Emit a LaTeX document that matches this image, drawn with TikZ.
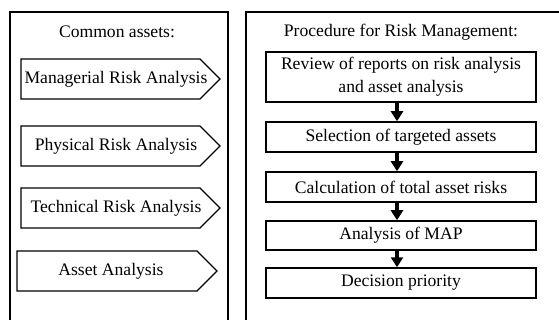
\documentclass[tikz,border=0pt]{standalone}
\usepackage{fontspec}
\setmainfont{Liberation Serif}
\usetikzlibrary{arrows.meta}
\begin{document}
\begin{tikzpicture}[x=1pt,y=-1pt,
  every node/.style={font=\fontsize{17.6}{23}\selectfont, inner sep=0pt},
  panel/.style={line width=1.2pt},
  pent/.style={line width=1.4pt},
  stepbox/.style={draw, line width=1.5pt, minimum width=270pt, minimum height=30pt, align=center},
  arr/.style={line width=3.4pt, -{Triangle[length=10pt,width=12pt]}}]
\useasboundingbox (0,0) rectangle (559,320);
% panels
\draw[panel] (10,320) -- (10,12) -- (228,12) -- (228,320);
\draw[panel] (246,320) -- (246,12) -- (559,12);
% left side
\node (ca) at (117,32) {Common assets:};
\draw[pent] (21,59) -- (200,59) -- (220,79) -- (200,99) -- (21,99) -- cycle;
\node (m) at (116,79) {Managerial Risk Analysis};
\draw[pent] (21,126) -- (200,126) -- (220,146) -- (200,166) -- (21,166) -- cycle;
\node (p) at (116,146) {Physical Risk Analysis};
\draw[pent] (21,188) -- (200,188) -- (220,208) -- (200,228) -- (21,228) -- cycle;
\node (t) at (116,208) {Technical Risk Analysis};
\draw[pent] (17,251) -- (197,251) -- (217,271) -- (197,291) -- (17,291) -- cycle;
\node (a) at (111,271) {Asset Analysis};
% right side
\node (pr) at (401,32) {Procedure for Risk Management:};
\node[stepbox, minimum height=50pt] (b1) at (401,77) {Review of reports on risk analysis\\and asset analysis};
\node[stepbox] (b2) at (401,137) {Selection of targeted assets};
\node[stepbox] (b3) at (401,187) {Calculation of total asset risks};
\node[stepbox, minimum height=29pt] (b4) at (401,235.5) {Analysis of MAP};
\node[stepbox] (b5) at (401,283) {Decision priority};
\draw[arr] ([xshift=-4pt]b1.south) -- ([xshift=-4pt]b2.north);
\draw[arr] ([xshift=-4pt]b2.south) -- ([xshift=-4pt]b3.north);
\draw[arr] ([xshift=-4pt]b3.south) -- ([xshift=-4pt]b4.north);
\draw[arr] ([xshift=-4pt]b4.south) -- ([xshift=-4pt]b5.north);
\end{tikzpicture}
\end{document}
